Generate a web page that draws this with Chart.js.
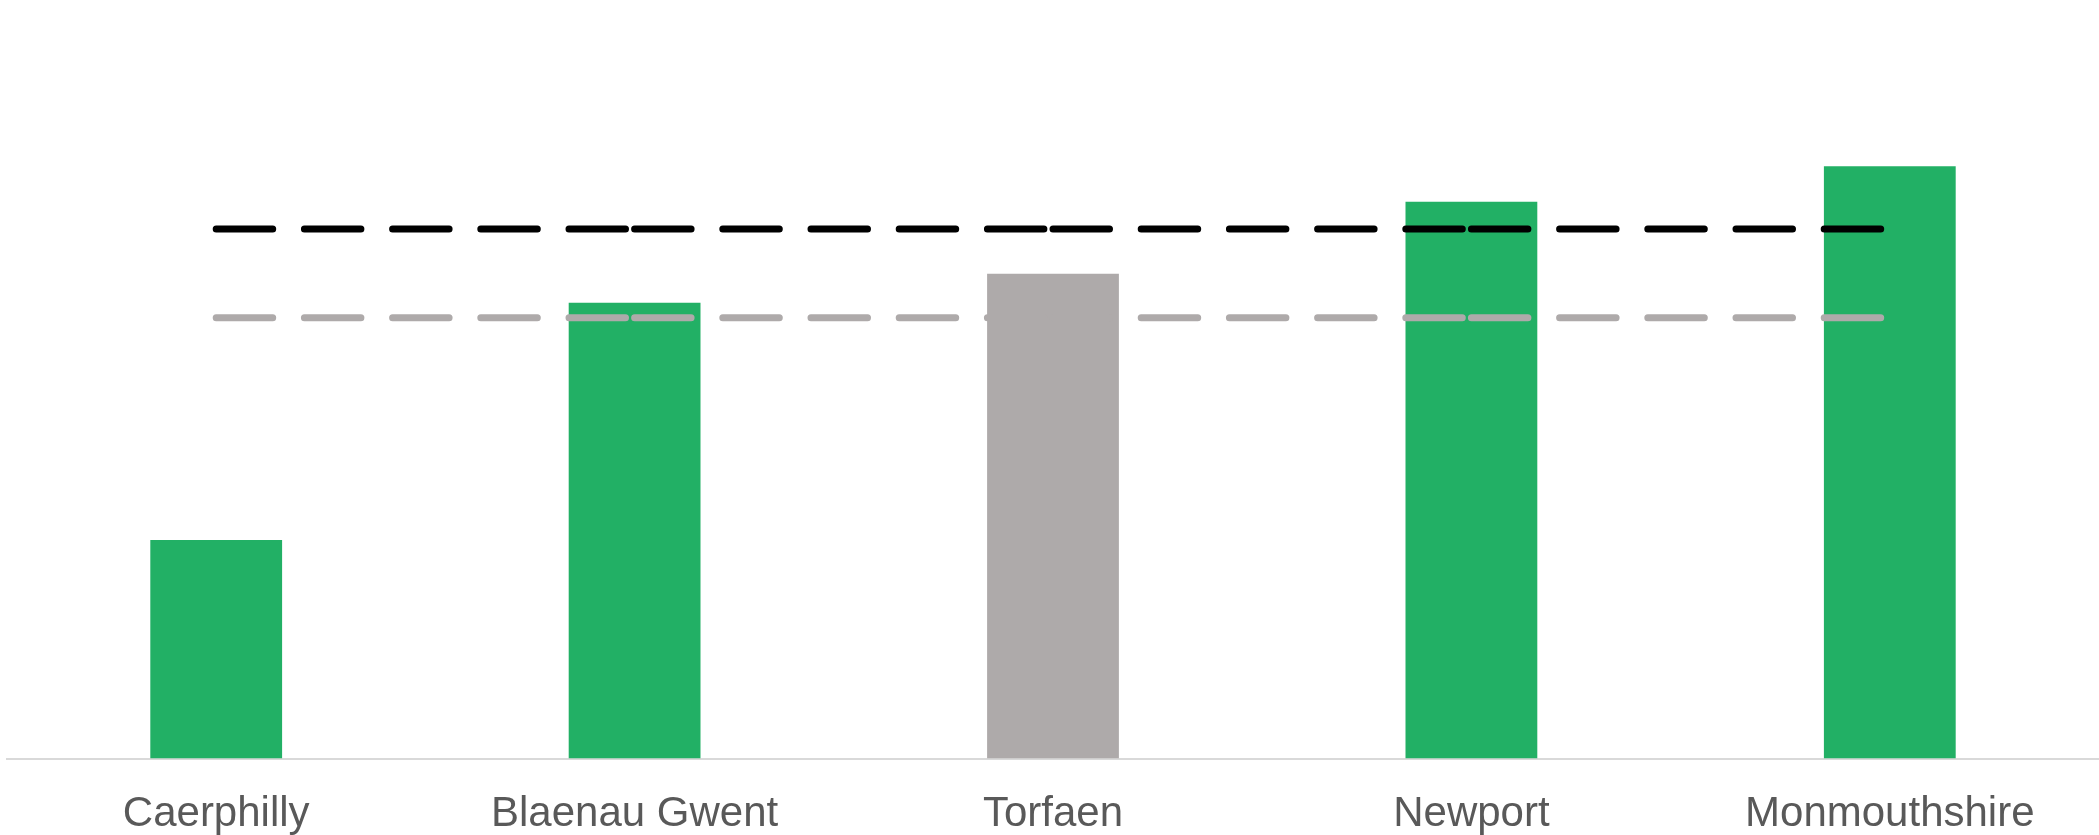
<!DOCTYPE html>
<html>
<head>
<meta charset="utf-8">
<title>Caerphilly to Monmouthshire</title>
<script src="https://cdn.jsdelivr.net/npm/chart.js@4.4.1/dist/chart.umd.min.js"></script>
<style>
  html, body { margin: 0; padding: 0; background: #ffffff; }
  #wrap { width: 2099px; height: 835px; }
</style>
</head>
<body>
<div id="wrap"><canvas id="myChart"></canvas></div>
<script>
// categorias y valores
const labels = ['Caerphilly', 'Blaenau Gwent', 'Torfaen', 'Newport', 'Monmouthshire'];
const valores = [28.8, 60.1, 63.9, 73.4, 78.1];
const coloresBarra = ['#22B065', '#22B065', '#AEAAAA', '#22B065', '#22B065'];
const lineaNegra = [69.8, 69.8, 69.8, 69.8, 69.8];
const lineaGris = [58.1, 58.1, 58.1, 58.1, 58.1];

// cada tramo se dibuja aparte para que el guion empiece de nuevo en cada punto
const tramo = {
  borderDashOffset: ctx => (ctx.p0DataIndex % 2 ? 0.0001 : 0)
};

const data = {
  labels: labels,
  datasets: [
    {
      type: 'line',
      data: lineaNegra,
      borderColor: '#000000',
      borderWidth: 7,
      borderDash: [56.5, 31.7],
      borderCapStyle: 'round',
      pointRadius: 0,
      fill: false,
      order: 0,
      segment: tramo
    },
    {
      type: 'line',
      data: lineaGris,
      borderColor: '#AEAAAA',
      borderWidth: 7,
      borderDash: [56.5, 31.7],
      borderCapStyle: 'round',
      pointRadius: 0,
      fill: false,
      order: 0,
      segment: tramo
    },
    {
      type: 'bar',
      data: valores,
      backgroundColor: coloresBarra,
      categoryPercentage: 1,
      barPercentage: 0.315,
      order: 1
    }
  ]
};

const config = {
  type: 'bar',
  data: data,
  options: {
    responsive: true,
    maintainAspectRatio: false,
    animation: false,
    layout: { padding: { left: 7, right: -4, top: 0, bottom: -28 } },
    plugins: {
      legend: { display: false },
      tooltip: { enabled: false }
    },
    scales: {
      x: {
        grid: { display: false },
        border: { display: true, color: '#D9D9D9', width: 2 },
        ticks: {
          color: '#595959',
          padding: 23,
          maxRotation: 0,
          font: { family: 'Liberation Sans, Arial, sans-serif', size: 42 }
        }
      },
      y: {
        display: false,
        min: 0,
        max: 100
      }
    }
  }
};

const ctx = document.getElementById('myChart').getContext('2d');
const myChart = new Chart(ctx, config);
</script>
</body>
</html>
